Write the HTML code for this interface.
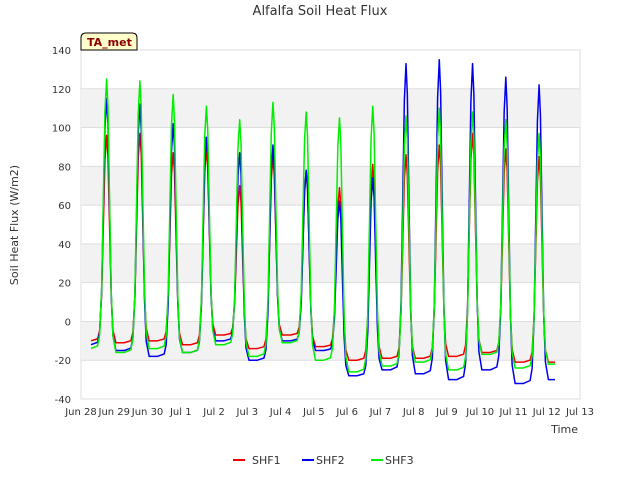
<!DOCTYPE html>
<html><head><meta charset="utf-8"><style>
body{margin:0;background:#fff;font-family:"Liberation Sans","DejaVu Sans",sans-serif}
svg text{font-family:"DejaVu Sans","Liberation Sans",sans-serif}
</style></head><body>
<svg width="640" height="480">
<rect width="640" height="480" fill="#fff"/>
<g id="bands"></g>
<text x="320" y="15" text-anchor="middle" font-size="13" fill="#333">Alfalfa Soil Heat Flux</text>
<text x="18" y="225" text-anchor="middle" font-size="11" fill="#333" transform="rotate(-90 18 225)">Soil Heat Flux (W/m2)</text>
<text x="578" y="433" text-anchor="end" font-size="11" fill="#333">Time</text>
<g id="axes"></g>
<g id="lines"></g>
<g>
<path d="M81,50 L81,38 Q81,33 86,33 L132,33 Q137,33 137,38 L137,50 Z" fill="#ffffcc" stroke="#000"/>
<text x="87" y="46" font-size="11" font-weight="bold" fill="#8b0000">TA_met</text>
</g>
<g>
<line x1="233" y1="460" x2="245" y2="460" stroke="#e00" stroke-width="2"/><text x="252" y="464" font-size="11" fill="#333">SHF1</text>
<line x1="302" y1="460" x2="314" y2="460" stroke="#00e" stroke-width="2"/><text x="316" y="464" font-size="11" fill="#333">SHF2</text>
<line x1="371" y1="460" x2="383" y2="460" stroke="#0e0" stroke-width="2"/><text x="385" y="464" font-size="11" fill="#333">SHF3</text>
</g>
</svg>
<script>
const xTickLabels=["Jun 28","Jun 29","Jun 30","Jul 1","Jul 2","Jul 3","Jul 4","Jul 5","Jul 6","Jul 7","Jul 8","Jul 9","Jul 10","Jul 11","Jul 12","Jul 13"];
const yTicks=[-40,-20,0,20,40,60,80,100,120,140];
const shf1Peaks=[96,97,87,89,70,85,77,69,81,86,91,97,89,85];
const shf2Peaks=[115,112,102,95,87,91,78,62,74,133,135,133,126,122];
const shf3Peaks=[125,124,117,111,104,113,108,105,111,106,110,108,104,97];
const shf1Troughs=[-10,-11,-10,-12,-7,-14,-7,-13,-20,-19,-19,-18,-16,-21,-21];
const shf2Troughs=[-12,-15,-18,-16,-10,-20,-10,-15,-28,-25,-27,-30,-25,-32,-30];
const shf3Troughs=[-14,-16,-14,-16,-12,-18,-11,-20,-26,-23,-21,-25,-17,-24,-22];
const X0=81,X1=580,Y0=399,Y1=50;
const xs=d=>X0+d*(X1-X0)/15;
const ys=v=>Y0-(v+40)*(Y0-Y1)/180;
const NS="http://www.w3.org/2000/svg";
function mk(p,t,a){const e=document.createElementNS(NS,t);for(const k in a)e.setAttribute(k,a[k]);p.appendChild(e);return e;}
const bands=document.getElementById('bands');
mk(bands,'rect',{x:X0,y:Y1,width:X1-X0,height:Y0-Y1,fill:'#fff',stroke:'#ddd'});
[[-20,0],[20,40],[60,80],[100,120]].forEach(([a,b])=>{const r=mk(bands,'rect',{x:X0,y:ys(b),width:X1-X0,height:ys(a)-ys(b),fill:'#f2f2f2'});

});
const axes=document.getElementById('axes');
yTicks.forEach(v=>{mk(axes,'line',{x1:X0,x2:X1,y1:ys(v),y2:ys(v),stroke:'#ddd'});
const t=mk(axes,'text',{x:X0-10,y:ys(v)+4,'text-anchor':'end','font-size':10,fill:'#333'});t.textContent=v;

});
xTickLabels.forEach((l,i)=>{const t=mk(axes,'text',{x:xs(i),y:415,'text-anchor':'middle','font-size':10,fill:'#333'});t.textContent=l;

});
const lines=document.getElementById('lines');
const prof=[[0.3,0],[0.5,0.01],[0.56,0.05],[0.62,0.22],[0.67,0.55],[0.72,0.88],[0.77,1],[0.81,0.9],[0.86,0.55],[0.91,0.22],[0.96,0.06],[1.05,0]];
function series(peaks,troughs,color,name){
  let pts=[];
  for(let d=0;d<peaks.length;d++){
    prof.forEach(([f,w])=>{
      const tr=f<0.77?troughs[d]:troughs[d+1];
      pts.push([xs(d+f),ys(tr+w*(peaks[d]-tr))]);});
  }
  pts.push([xs(14.25),ys(troughs[14])]);
  const p=mk(lines,'polyline',{points:pts.map(p=>p.join(',')).join(' '),fill:'none',stroke:color,'stroke-width':1.5,'stroke-linejoin':'round'});
  
  
}
series(shf1Peaks,shf1Troughs,'#e00','shf1-line');
series(shf2Peaks,shf2Troughs,'#00e','shf2-line');
series(shf3Peaks,shf3Troughs,'#0e0','shf3-line');
</script>
</body></html>
